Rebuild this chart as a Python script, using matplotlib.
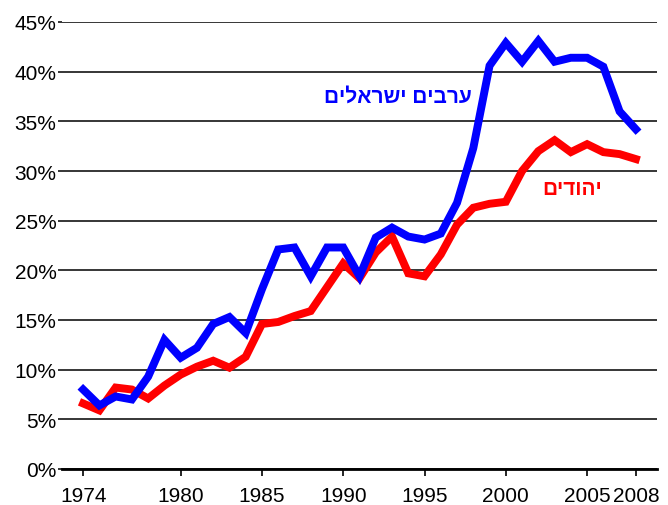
import matplotlib
matplotlib.use("Agg")
import matplotlib.pyplot as plt
from matplotlib.ticker import FuncFormatter

plt.rcParams['font.family'] = ['Liberation Sans', 'DejaVu Sans']

# ---------------- DATA ----------------
years = list(range(1974, 2009))

arabs = [8.0, 6.4, 7.3, 7.0, 9.3, 13.0, 11.2, 12.2, 14.6, 15.3,
         13.7, 18.1, 22.1, 22.3, 19.4, 22.3, 22.3, 19.4, 23.3, 24.3,
         23.4, 23.1, 23.7, 26.8, 32.3, 40.6, 42.9, 41.0, 43.1, 41.0,
         41.4, 41.4, 40.5, 36.0, 34.2]

jews = [6.6, 5.9, 8.2, 8.0, 7.1, 8.4, 9.5, 10.3, 10.9, 10.2,
        11.3, 14.6, 14.8, 15.4, 15.9, 18.3, 20.7, 19.2, 21.8, 23.4,
        19.7, 19.4, 21.6, 24.6, 26.3, 26.7, 26.9, 30.0, 32.0, 33.1,
        31.9, 32.7, 31.9, 31.7, 31.2]

x_ticks = [1974, 1980, 1985, 1990, 1995, 2000, 2005, 2008]
y_ticks = [0, 5, 10, 15, 20, 25, 30, 35, 40, 45]

label_arabs = "ערבים ישראלים"
label_jews = "יהודים"

# ---------------- PLOT ----------------
fig = plt.figure(figsize=(6.68, 5.06), dpi=100)
ax = fig.add_axes([62 / 668, 1 - 470 / 506, (657 - 62) / 668, (470 - 23) / 506])

ax.plot(years, jews, color='#ff0000', lw=5.7, solid_joinstyle='miter', zorder=3)
ax.plot(years, arabs, color='#0000ff', lw=5.7, solid_joinstyle='miter', zorder=4)

ax.set_xlim(1972.7, 2009.3)
ax.set_ylim(0, 45)
ax.set_xticks(x_ticks)
ax.set_yticks(y_ticks)
ax.yaxis.set_major_formatter(FuncFormatter(lambda v, p: f"{v:.0f}%"))

ax.grid(axis='y', color='black', lw=1.1, zorder=1)
ax.set_axisbelow(True)
for side in ['left', 'right', 'top']:
    ax.spines[side].set_visible(False)
ax.spines['bottom'].set_linewidth(2)
ax.spines['bottom'].set_zorder(2)

ax.tick_params(axis='y', length=3, width=1.1, color='black', labelsize=15, pad=1)
ax.tick_params(axis='x', length=5, width=1.2, color='black', labelsize=15, pad=7)

# matplotlib has no bidi support, so Hebrew is reversed for display
ax.text(1997.9, 37.5, label_arabs[::-1], color='#0000ff', fontsize=15,
        fontweight='bold', ha='right', va='center')
ax.text(2005.9, 28.2, label_jews[::-1], color='#ff0000', fontsize=15,
        fontweight='bold', ha='right', va='center')

fig.savefig("out.png", dpi=100)
